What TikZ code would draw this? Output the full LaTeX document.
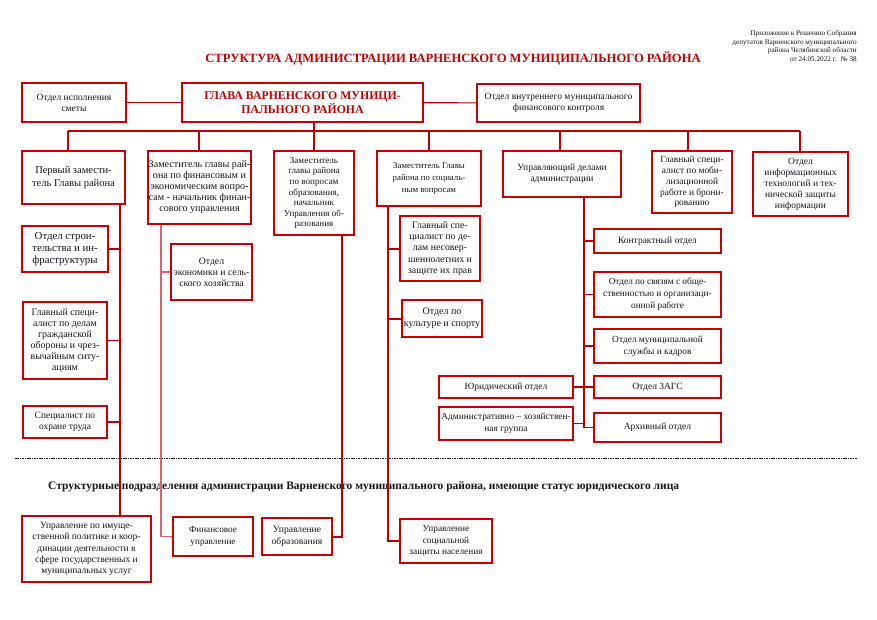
\documentclass[tikz,border=0pt]{standalone}
\usepackage{fontspec}
\setmainfont{Liberation Serif}
\definecolor{boxred}{RGB}{204,0,0}
\definecolor{linered}{RGB}{192,0,0}
\definecolor{pinkline}{RGB}{228,96,108}
\definecolor{txt}{RGB}{25,20,30}
\definecolor{titlered}{RGB}{200,0,0}
\newcommand\bx[7]{\node[box,#6,minimum width={#4-#2},minimum height={#5-#3}] (#1) at ({(#2+#4)/2},{(#3+#5)/2}) {#7};}
\newcommand\fs[2]{\fontsize{#1}{#2}\selectfont}
\begin{document}
\begin{tikzpicture}[x=1pt,y=-1pt,
  box/.style={draw=boxred,line width=1.1pt,align=center,inner sep=0pt,text=txt,font=\fs{9.5}{11}},
  thickbox/.style={line width=2pt},
  conn/.style={draw=linered,line width=1.1pt},
  thickconn/.style={draw=linered,line width=2pt},
  pinkconn/.style={draw=pinkline,line width=1.1pt},
  note/.style={align=right,text=txt,inner sep=0pt,font=\fs{7.2}{8.7}}]
\useasboundingbox (0,0) rectangle (877,620);
\fill[white] (0,0) rectangle (877,620);

\node[note,anchor=north east] (note) at (857,30) {Приложение к Решению Собрания\\депутатов Варненского муниципального\\района Челябинской области\\от 24.05.2022 г. \ № 38};

\node[text=titlered,inner sep=0pt,font=\fs{12.6}{14}\bfseries] (title) at (453,58) {СТРУКТУРА АДМИНИСТРАЦИИ ВАРНЕНСКОГО МУНИЦИПАЛЬНОГО РАЙОНА};

% top row
\bx{smeta}{22}{83}{126}{122}{}{Отдел исполнения\\сметы}
\bx{glava}{182}{83}{423}{122}{text=titlered,font=\fs{11.8}{13.5}\bfseries}{ГЛАВА ВАРНЕНСКОГО МУНИЦИ-\\ПАЛЬНОГО РАЙОНА}
\bx{vnutr}{477}{84}{640}{122}{}{Отдел внутреннего муниципального\\финансового контроля}

% second row
\bx{perv}{22}{151}{125}{204}{font=\fs{10.5}{12.5}}{Первый замести-\\тель Главы района}
\bx{fin}{148}{151}{251}{224}{font=\fs{10.1}{11}}{Заместитель главы рай-\\она по финансовым и\\экономическим вопро-\\сам - начальник финан-\\сового управления}
\bx{obr}{274}{151}{354}{235}{font=\fs{9.1}{10.6}}{Заместитель\\главы района\\по вопросам\\образования,\\начальник\\Управления об-\\разования}
\bx{soc}{377}{151}{481}{206}{font=\fs{8.8}{12}}{Заместитель Главы\\района по социаль-\\ным вопросам}
\bx{upr}{503}{151}{621}{197}{}{Управляющий делами\\администрации}
\bx{mob}{652}{151}{732}{213}{font=\fs{9.4}{10.8}}{Главный специ-\\алист по моби-\\лизационной\\работе и брони-\\рованию}
\bx{inf}{753}{152}{848}{216}{}{Отдел\\информационных\\технологий и тех-\\нической защиты\\информации}

% left column
\bx{stroi}{22}{226}{108}{272}{font=\fs{10.8}{11.7}}{Отдел строи-\\тельства и ин-\\фраструктуры}
\bx{go}{23}{302}{107}{379}{thickbox,font=\fs{9.9}{11}}{Главный специ-\\алист по делам\\гражданской\\обороны и чрез-\\вычайным ситу-\\ациям}
\bx{ohr}{23}{406}{107}{438}{thickbox}{Специалист по\\охране труда}
\bx{econ}{171}{244}{252}{300}{font=\fs{9.7}{11}}{Отдел\\экономики и сель-\\ского хозяйства}
\bx{nesov}{400}{216}{480}{281}{font=\fs{9.8}{11.2}}{Главный спе-\\циалист по де-\\лам несовер-\\шеннолетних и\\защите их прав}
\bx{kult}{402}{300}{482}{337}{font=\fs{10}{12}}{Отдел по\\культуре и спорту}

% admin column
\bx{kontr}{594}{229}{721}{253}{}{Контрактный отдел}
\bx{svyaz}{594}{272}{721}{317}{font=\fs{9.3}{12}}{Отдел по связям с обще-\\ственностью и организаци-\\онной работе}
\bx{kadr}{594}{329}{721}{363}{font=\fs{9.4}{12}}{Отдел муниципальной\\службы и кадров}
\bx{zags}{594}{376}{721}{398}{}{Отдел ЗАГС}
\bx{arch}{594}{413}{721}{442}{}{Архивный отдел}
\bx{yur}{439}{376}{573}{398}{}{Юридический отдел}
\bx{adm}{439}{407}{573}{440}{font=\fs{9.4}{12}}{Административно – хозяйствен-\\ная группа}

% separator and subtitle
\draw[txt,line width=0.6pt,dash pattern=on 1.6pt off 0.8pt] (15,458) -- (857,458);
\node[anchor=west,inner sep=0pt,text=txt,font=\fs{11.5}{13}\bfseries] (sub) at (48,487) {Структурные подразделения администрации Варненского муниципального района, имеющие статус юридического лица};

% bottom row
\bx{imush}{22}{516}{151}{582}{font=\fs{9.5}{11.2}}{Управление по имуще-\\ственной политике и коор-\\динации деятельности в\\сфере государственных и\\муниципальных услуг}
\bx{finupr}{173}{517}{253}{556}{font=\fs{9.2}{12}}{Финансовое\\управление}
\bx{obrupr}{262}{518}{332}{555}{font=\fs{9.6}{11.5}}{Управление\\образования}
\bx{socupr}{400}{519}{492}{563}{font=\fs{9.3}{11.5}}{Управление\\социальной\\защиты населения}

% connectors: top row
\draw[conn] (smeta) -- (glava);
\draw[conn] (glava) -- (vnutr);
\coordinate (gdrop) at (314,122);
\coordinate (busL) at (68,131);
\coordinate (busR) at (800,131);
\draw[conn] (glava.south -| gdrop) -- (gdrop |- obr.north);
\draw[conn] (busL) -- (busR);
\draw[conn] (busL) -- (busL |- perv.north);
\coordinate (b2) at (199,131);
\draw[conn] (b2) -- (b2 |- fin.north);
\coordinate (b4) at (429,131);
\draw[conn] (b4) -- (b4 |- soc.north);
\coordinate (b5) at (560,131);
\draw[conn] (b5) -- (b5 |- upr.north);
\coordinate (b6) at (688,131);
\draw[conn] (b6) -- (b6 |- mob.north);
\draw[conn] (busR) -- (busR |- inf.north);

% spine: first deputy
\coordinate (s1) at (120,204);
\draw[thickconn] (perv.south -| s1) -- (s1 |- imush.north);
\draw[conn] (stroi.east) -- (stroi.east -| s1);
\draw[conn] (go.east) -- (go.east -| s1);
\draw[conn] (ohr.east) -- (ohr.east -| s1);

% spine: finance
\coordinate (s2) at (161,224);
\draw[pinkconn] (fin.south -| s2) -- (s2 |- finupr.west) -- (finupr.west);
\draw[pinkconn] (econ.west) -- (econ.west -| s2);

% spine: education
\coordinate (s3) at (342,235);
\draw[thickconn] (obr.south -| s3) -- (s3 |- obrupr.east) -- (obrupr.east);

% spine: social
\coordinate (s4) at (388,206);
\draw[thickconn] (soc.south -| s4) -- (s4 |- socupr.west) -- (socupr.west);
\draw[thickconn] (nesov.west) -- (nesov.west -| s4);
\draw[thickconn] (kult.west) -- (kult.west -| s4);

% spine: administration
\coordinate (s5) at (584,197);
\draw[conn] (upr.south -| s5) -- (s5 |- arch.west);
\draw[conn] (kontr.west) -- (kontr.west -| s5);
\draw[conn] (svyaz.west) -- (svyaz.west -| s5);
\draw[thickconn] (kadr.west) -- (kadr.west -| s5);
\draw[conn] (zags.west) -- (zags.west -| s5);
\draw[conn] (arch.west) -- (arch.west -| s5);
\draw[conn] (yur.east) -- (yur.east -| s5);
\draw[conn] (adm.east) -- (adm.east -| s5);
\end{tikzpicture}
\end{document}
